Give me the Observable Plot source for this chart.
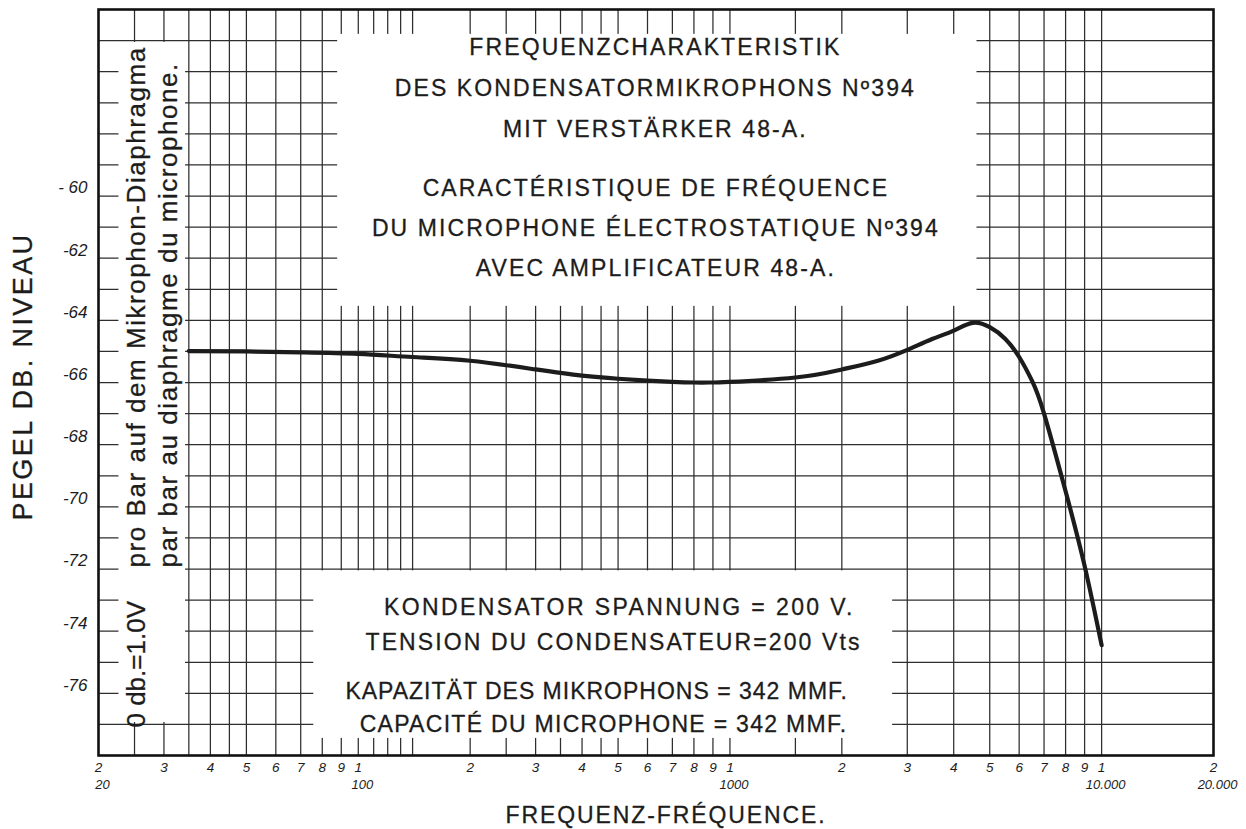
<!DOCTYPE html>
<html>
<head>
<meta charset="utf-8">
<script src="https://cdn.jsdelivr.net/npm/d3@7"></script>
<script src="https://cdn.jsdelivr.net/npm/@observablehq/plot@0.6"></script>
<style>
  html, body { margin: 0; padding: 0; background: #fff; }
  #chart { width: 1246px; height: 829px; }
</style>
</head>
<body>
<div id="chart"></div>
<script>
// ---------------- DATA ----------------
// Frequency response curve (Hz -> dB)
const frequencies = [35, 50, 70, 100, 140, 200, 300, 400, 500, 600, 700, 800, 900, 1000, 1500, 2000, 2500, 3000, 3500, 4000, 4500, 5000, 5500, 6000, 6500, 7000, 8000, 9000, 10000];
const levels = [-64.99, -65.0, -65.03, -65.08, -65.18, -65.3, -65.58, -65.78, -65.88, -65.94, -65.98, -66.0, -66.0, -65.98, -65.84, -65.58, -65.3, -64.95, -64.6, -64.33, -64.08, -64.22, -64.59, -65.18, -65.95, -67.0, -69.5, -71.9, -74.45];

// Grid lines of the printed chart paper
const levelGrid = [-55, -56, -57, -58, -59, -60, -61, -62, -63, -64, -65, -66, -67, -68, -69, -70, -71, -72, -73, -74, -75, -76, -77];
const frequencyGrid = [25, 30, 35, 40, 45, 50, 60, 70, 80, 90, 100, 110, 120, 130, 140, 200, 250, 300, 350, 400, 450, 500, 600, 700, 800, 900, 1000, 1500, 2000, 3000, 4000, 5000, 6000, 7000, 8000, 9000, 10000];

// Y tick labels
const levelTicks = [-60, -62, -64, -66, -68, -70, -72, -74, -76];
const levelTickLabels = ["- 60", "-62", "-64", "-66", "-68", "-70", "-72", "-74", "-76"];

// X tick labels (two rows)
const digitTicks = [20, 30, 40, 50, 60, 70, 80, 90, 100, 200, 300, 400, 500, 600, 700, 800, 900, 1000, 2000, 3000, 4000, 5000, 6000, 7000, 8000, 9000, 10000, 20000];
const digitLabels = ["2", "3", "4", "5", "6", "7", "8", "9", "1", "2", "3", "4", "5", "6", "7", "8", "9", "1", "2", "3", "4", "5", "6", "7", "8", "9", "1", "2"];
const decadeTicks = [20, 100, 1000, 10000, 20000];
const decadeLabels = ["20", "100", "1000", "10.000", "20.000"];

// Texts
const titleGerman = ["FREQUENZCHARAKTERISTIK", "DES KONDENSATORMIKROPHONS Nº394", "MIT VERSTÄRKER 48-A."];
const titleFrench = ["CARACTÉRISTIQUE DE FRÉQUENCE", "DU MICROPHONE ÉLECTROSTATIQUE Nº394", "AVEC AMPLIFICATEUR 48-A."];
const specLines = ["KONDENSATOR SPANNUNG = 200 V.", "TENSION DU CONDENSATEUR=200 Vts", "KAPAZITÄT DES MIKROPHONS = 342 MMF.", "CAPACITÉ DU MICROPHONE = 342 MMF."];
const referenceValue = "0 db.=1.0V";
const referenceNote = ["pro Bar auf dem Mikrophon-Diaphragma", "par bar au diaphragme du microphone."];
const yTitle = "PEGEL DB. NIVEAU";
const xTitle = "FREQUENZ-FRÉQUENCE.";

// ---------------- LAYOUT (annotation placement, in chart units) ----------------
const curveData = frequencies.map((f, i) => ({f, db: levels[i]}));
const masks = [
  {f1: 22.7, f2: 34.3, d1: -55.06, d2: -76.94},   // left note panel
  {f1: 88, f2: 4620, d1: -54.8, d2: -63.55},      // title panel
  {f1: 75.9, f2: 2740, d1: -72.06, d2: -77.45}    // specification panel
];
const specPos = [
  {f: 504, db: -73.24}, {f: 486, db: -74.36}, {f: 438, db: -75.94}, {f: 457, db: -77.0}
];
const notePos = [{f: 25.3, db: -71.95}, {f: 30.9, db: -71.95}];

const ink = "#1c1c1c";
const gridInk = "#2e2e2e";
const font = "'Liberation Sans', Arial, sans-serif";
const letter = {fill: ink, stroke: ink, strokeWidth: 0.3};

const chart = Plot.plot({
  width: 1246,
  height: 829,
  marginLeft: 98,
  marginRight: 33,
  marginTop: 9,
  marginBottom: 74,
  x: {type: "log", domain: [20, 20000], axis: null},
  y: {domain: [-78, -54], axis: null},
  style: {background: "#fff", fontFamily: font, color: ink},
  marks: [
    Plot.ruleY(levelGrid, {stroke: gridInk, strokeWidth: 1.25}),
    Plot.ruleX(frequencyGrid, {stroke: gridInk, strokeWidth: 1.25}),
    Plot.rect(masks, {x1: "f1", x2: "f2", y1: "d1", y2: "d2", fill: "#fff"}),
    Plot.text([titleGerman.join("\n")], {x: 630, y: -56.35, text: d => d, fontSize: 23, lineHeight: 1.78, ...letter}),
    Plot.text([titleFrench.join("\n")], {x: 632, y: -60.89, text: d => d, fontSize: 23, lineHeight: 1.74, ...letter}),
    Plot.text(specLines, {x: (d, i) => specPos[i].f, y: (d, i) => specPos[i].db, text: d => d, fontSize: 23, ...letter}),
    Plot.text([referenceValue], {x: 25.3, y: -77.1, text: d => d, rotate: -90, textAnchor: "start", fontSize: 26, ...letter}),
    Plot.text(referenceNote, {x: (d, i) => notePos[i].f, y: (d, i) => notePos[i].db, text: d => d, rotate: -90, textAnchor: "start", fontSize: 26, ...letter}),
    Plot.line(curveData, {x: "f", y: "db", curve: "natural", stroke: ink, strokeWidth: 4.2}),
    Plot.frame({stroke: "#111", strokeWidth: 2.6}),
    Plot.text(levelTicks, {y: d => d, text: (d, i) => levelTickLabels[i], frameAnchor: "left", dx: -11, dy: -8, textAnchor: "end", lineAnchor: "middle", fontSize: 17, fontStyle: "italic", fill: ink}),
    Plot.text(digitTicks, {x: d => d, text: (d, i) => digitLabels[i], frameAnchor: "bottom", dy: 12, lineAnchor: "middle", textAnchor: "middle", fontSize: 13.5, fontStyle: "italic", fill: ink}),
    Plot.text(decadeTicks, {x: d => d, text: (d, i) => decadeLabels[i], frameAnchor: "bottom", dy: 29, dx: 4, lineAnchor: "middle", textAnchor: "middle", fontSize: 13, fontStyle: "italic", fill: ink}),
    Plot.text([yTitle], {frameAnchor: "left", dx: -75, dy: -6, rotate: -90, textAnchor: "middle", lineAnchor: "middle", text: d => d, fontSize: 27, ...letter}),
    Plot.text([xTitle], {frameAnchor: "bottom", dy: 60, dx: 10, textAnchor: "middle", lineAnchor: "middle", text: d => d, fontSize: 23, ...letter})
  ]
});

// letter spacing of the stencil lettering
const spacing = new Map([
  ...titleGerman.map(t => [t, 2.1]),
  ...titleFrench.map(t => [t, 2.1]),
  [specLines[0], 2.4], [specLines[1], 2.1], [specLines[2], 1.0], [specLines[3], 1.3],
  [referenceValue, 0],
  [referenceNote[0], 1.55], [referenceNote[1], 1.55],
  [yTitle, 2.4],
  [xTitle, 1.9]
]);
d3.select(chart).selectAll("text, tspan").each(function () {
  if (this.tagName === "text" && this.querySelector("tspan")) return;
  const s = spacing.get(this.textContent);
  if (s != null) this.style.letterSpacing = s + "px";
});
document.getElementById("chart").appendChild(chart);
</script>
</body>
</html>
